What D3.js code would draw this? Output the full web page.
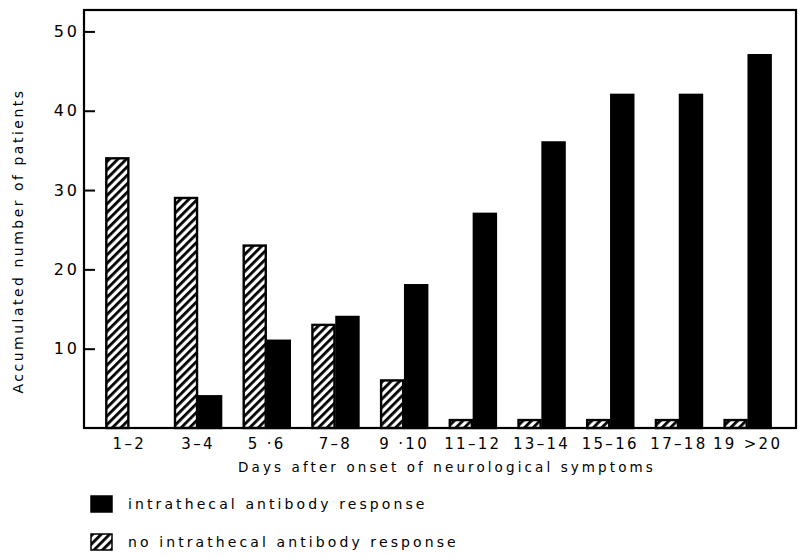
<!DOCTYPE html>
<html><head><meta charset="utf-8">
<script src="https://cdn.jsdelivr.net/npm/d3@7"></script>
<style>body{margin:0;background:#fff}svg{display:block}text{font-family:"DejaVu Sans",sans-serif;fill:#000}</style>
</head><body><svg id="c" width="810" height="558"></svg>
<script>
const categories = ["1–2","3–4","5 ·6","7–8","9 ·10","11–12","13–14","15–16","17–18","19 >20"];
const noResponse = [34, 29, 23, 13, 6, 1, 1, 1, 1, 1];
const response   = [0, 4, 11, 14, 18, 27, 36, 42, 42, 47];
const yTicks = [10, 20, 30, 40, 50];
const seriesNames = ["no intrathecal antibody response", "intrathecal antibody response"];

const svg = d3.select("#c");
const frame = {l: 84, r: 796, t: 10, b: 428};

const defs = svg.append("defs");
const pat = defs.append("pattern").attr("id","hatch").attr("patternUnits","userSpaceOnUse")
  .attr("width",6).attr("height",6).attr("patternTransform","rotate(45)");
pat.append("rect").attr("width",6).attr("height",6).attr("fill","#fff");
pat.append("rect").attr("x",0).attr("y",0).attr("width",2.8).attr("height",6).attr("fill","#000");

const x0 = d3.scaleBand().domain(categories).range([95, 782]).paddingInner(0.3).paddingOuter(0.15);
const x1 = d3.scaleBand().domain(seriesNames).range([0, x0.bandwidth()]);
const y = d3.scaleLinear().domain([0, 52.7]).range([frame.b, frame.t]);

const rows = categories.map((c,i)=>({c, vals:[{s:seriesNames[0], v:noResponse[i]},{s:seriesNames[1], v:response[i]}]}));

const g = svg.append("g");
g.selectAll("g.cat").data(rows).join("g").attr("class","cat")
  .attr("transform", d=>`translate(${x0(d.c)},0)`)
  .selectAll("rect").data(d=>d.vals.filter(v=>v.v>0)).join("rect")
  .attr("x", d=>x1(d.s)+1).attr("width", x1.bandwidth()-2)
  .attr("y", d=>y(d.v)).attr("height", d=>y(0)-y(d.v))
  .attr("fill", d=>d.s===seriesNames[0] ? "url(#hatch)" : "#000")
  .attr("stroke","#000").attr("stroke-width",2.4);

// frame
svg.append("rect").attr("x",frame.l).attr("y",frame.t).attr("width",frame.r-frame.l).attr("height",frame.b-frame.t)
  .attr("fill","none").attr("stroke","#000").attr("stroke-width",2.2);

// y axis (ticks inward)
const yAxis = d3.axisRight(y).tickValues(yTicks).tickSize(11);
const ya = svg.append("g").attr("transform",`translate(${frame.l},0)`).call(yAxis);
ya.select(".domain").remove();
ya.selectAll(".tick line").attr("stroke","#000").attr("stroke-width",2);
ya.selectAll(".tick text").attr("x",-4).attr("text-anchor","end").attr("font-size",16).attr("letter-spacing",3);

// x axis labels
const xAxis = d3.axisBottom(x0).tickSize(0).tickPadding(10);
const xa = svg.append("g").attr("transform",`translate(0,${frame.b})`).call(xAxis);
xa.select(".domain").remove();
xa.selectAll(".tick text").attr("font-size",15).attr("letter-spacing",2.3).attr("dx",0);

svg.append("text").attr("x",447).attr("y",472).attr("text-anchor","middle").attr("font-size",13.5)
  .attr("letter-spacing",3.1).text("Days after onset of neurological symptoms");
svg.append("text").attr("transform","translate(23,241) rotate(-90)").attr("text-anchor","middle")
  .attr("font-size",14).attr("letter-spacing",2.5).text("Accumulated number of patients");

// legend
const legend = [{s:seriesNames[1], fill:"#000", y:496},{s:seriesNames[0], fill:"url(#hatch)", y:534}];
const lg = svg.selectAll("g.lg").data(legend).join("g").attr("class","lg").attr("transform",d=>`translate(91,${d.y})`);
lg.append("rect").attr("width",21).attr("height",16).attr("fill",d=>d.fill).attr("stroke","#000").attr("stroke-width",1.5);
lg.append("text").attr("x",37).attr("y",12.5).attr("font-size",14).attr("letter-spacing",3.1).text(d=>d.s);
</script></body></html>
